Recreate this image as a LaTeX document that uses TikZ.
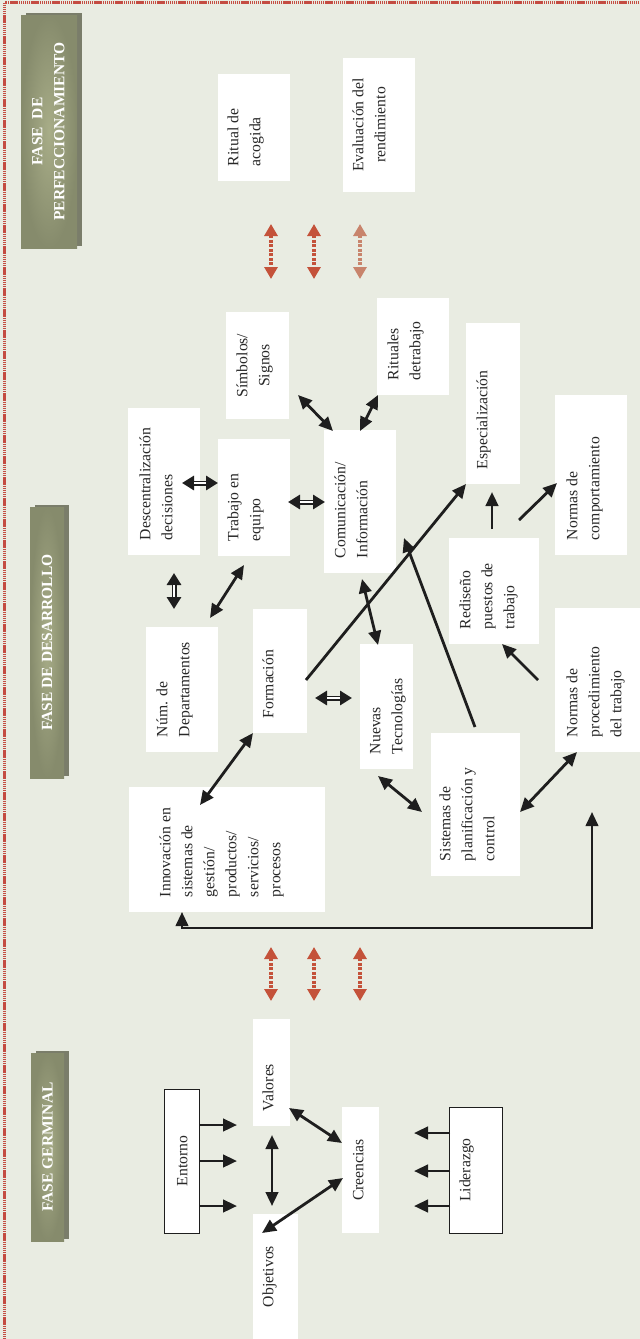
\documentclass[tikz,border=0pt]{standalone}
\usepackage{fontspec}
\setmainfont{Liberation Serif}
\usetikzlibrary{arrows.meta,calc}
\definecolor{bg}{RGB}{233,236,226}
\definecolor{brd}{RGB}{196,76,66}
\definecolor{oliveC}{RGB}{168,173,136}
\definecolor{oliveE}{RGB}{134,139,108}
\definecolor{oliveS}{RGB}{122,125,106}
\definecolor{ink}{RGB}{30,30,30}
\definecolor{txt}{RGB}{40,40,40}
\definecolor{redA}{RGB}{196,82,58}
\definecolor{redB}{RGB}{200,132,108}
% #1 screen width, #2 screen height, #3 offset of cap top from left edge, #4 lines
\newcommand\bxl[4]{\rotatebox{90}{\parbox[c][#1pt][t]{#2pt}{\vspace*{\dimexpr#3pt-5pt\relax}\hspace*{15pt}\begin{tabular}[t]{@{}l@{}}#4\end{tabular}}}}
\newcommand\bxc[4]{\rotatebox{90}{\parbox[c][#1pt][t]{#2pt}{\vspace*{\dimexpr#3pt-5pt\relax}\centering\begin{tabular}[t]{@{}c@{}}#4\end{tabular}\par}}}
\begin{document}
\begin{tikzpicture}[x=1pt,y=-1pt,
  wbox/.style={fill=white,inner sep=0pt,text=txt,font=\fontsize{15.7}{22}\selectfont},
  kbox/.style={wbox,draw=ink,line width=1pt},
  banner/.style={inner sep=0pt,text=white,font=\bfseries\fontsize{15.5}{22}\selectfont,
    inner color=oliveC,outer color=oliveE,
    preaction={fill=oliveS,transform canvas={shift={(5pt,2pt)}}}},
  arr/.style={draw=ink,line width=2.8pt,-{Triangle[length=14pt,width=12.5pt]}},
  darr/.style={draw=ink,line width=2.8pt,{Triangle[length=14pt,width=12.5pt]}-{Triangle[length=14pt,width=12.5pt]}},
  dbl/.style={draw=ink,line width=5pt,{Triangle[length=12pt,width=14pt]}-{Triangle[length=12pt,width=14pt]},
    postaction={draw=white,line width=1.2pt,arrows=-,shorten <=12pt,shorten >=12pt}},
  rdot/.style={line width=3.5pt,dash pattern=on 3pt off 1.5pt,
    {Triangle[length=12pt,width=13pt]}-{Triangle[length=12pt,width=13pt]}},
]
\useasboundingbox (0,0) rectangle (640,1339);
\fill[bg] (0,0) rectangle (640,1339);
\draw[brd,line width=2.2pt,dash pattern=on 1.4pt off 0.7pt] (4.5,2.5) rectangle (700,1400);

% phase banners
\node[banner,minimum width=56pt,minimum height=233pt] (b1) at (49,131.5)
  {\rotatebox{90}{\begin{tabular}{@{}c@{}}FASE\ \ DE\\PERFECCIONAMIENTO\end{tabular}}};
\node[banner,minimum width=34pt,minimum height=271pt] (b2) at (47,642.5)
  {\rotatebox{90}{FASE DE DESARROLLO}};
\node[banner,minimum width=33pt,minimum height=188pt] (b3) at (47.5,1147)
  {\rotatebox{90}{FASE GERMINAL}};

% boxes
\node[wbox] (rit) at (254,127.5) {\bxl{72}{107}{10}{Ritual de\\acogida}};
\node[wbox] (eva) at (379,125) {\bxc{72}{134}{10}{Evaluación del\\rendimiento}};
\node[wbox] (sim) at (257.5,365.5) {\bxc{63}{107}{11}{Símbolos/\\Signos}};
\node[wbox] (ritt) at (413,346.5) {\bxl{72}{97}{11}{Rituales\\detrabajo}};
\node[wbox] (desc) at (164,481.5) {\bxl{72}{147}{12}{Descentralización\\decisiones}};
\node[wbox] (trab) at (254,497.5) {\bxl{72}{117}{10}{Trabajo en\\equipo}};
\node[wbox] (com) at (360,501.5) {\bxl{72}{143}{11}{Comunicación/\\Información}};
\node[wbox] (esp) at (493,403.5) {\bxl{54}{161}{11}{Especialización}};
\node[wbox] (ncomp) at (591,475) {\bxl{72}{160}{12}{Normas de\\comportamiento}};
\node[wbox] (red) at (494,591) {\bxl{90}{106}{11}{Rediseño\\puestos de\\trabajo}};
\node[wbox] (num) at (182,689.5) {\bxl{72}{125}{11}{Núm. de\\Departamentos}};
\node[wbox] (form) at (280,671) {\bxl{54}{124}{10}{Formación}};
\node[wbox] (inno) at (227,849.5) {\bxl{196}{125}{31}{Innovación en\\sistemas de\\gestión/\\productos/\\servicios/\\procesos}};
\node[wbox] (nuev) at (386.5,706.5) {\bxl{53}{125}{10}{Nuevas\\Tecnologías}};
\node[wbox] (sist) at (475.5,804.5) {\bxl{89}{143}{9}{Sistemas de\\planificación y\\control}};
\node[wbox] (nproc) at (598,680) {\bxl{86}{144}{12}{Normas de\\procedimiento\\del trabajo}};
\node[wbox] (val) at (271.5,1072.5) {\bxl{37}{107}{10}{Valores}};
\node[wbox] (obj) at (275.5,1276.5) {\bxc{45}{125}{10}{Objetivos}};
\node[kbox] (ent) at (181.5,1161) {\bxc{35}{144}{13}{Entorno}};
\node[wbox] (cre) at (360.5,1170) {\bxc{37}{126}{11}{Creencias}};
\node[kbox] (lid) at (475.5,1170) {\bxc{53}{126}{11}{Liderazgo}};

% red dotted arrows between phases
\foreach \x/\c in {271/redA,314/redA,360/redB}
  \draw[rdot,draw=\c] (\x,224) -- (\x,279);
\foreach \x in {271,314,360}
  \draw[rdot,draw=redA] (\x,947) -- (\x,1001);

% connectors, development phase
\draw[dbl] ($(desc.center)+(18,1.5)$) -- ($(trab.center)+(-36,-14.5)$);
\draw[dbl] ($(trab.center)+(34,4.5)$) -- ($(com.center)+(-35,0.5)$);
\draw[darr] ($(sim.center)+(40.5,29.5)$) -- ($(com.center)+(-27,-70.5)$);
\draw[darr] ($(ritt.center)+(-35,48.5)$) -- ($(com.center)+(0,-70.5)$);
\draw[dbl] ($(desc.center)+(10,91.5)$) -- ($(num.center)+(-8,-80.5)$);
\draw[darr] ($(trab.center)+(-10,67.5)$) -- ($(num.center)+(28,-71.5)$);
\draw[darr] ($(com.center)+(2,77.5)$) -- ($(nuev.center)+(-8.5,-61.5)$);
\draw[arr] ($(form.center)+(26,9)$) -- ($(esp.center)+(-27,80.5)$);
\draw[arr] ($(sist.center)+(-0.5,-77.5)$) -- ($(com.center)+(44,36.5)$);
\draw[dbl] ($(form.center)+(35,27)$) -- ($(nuev.center)+(-34.5,-8.5)$);
\draw[darr] ($(form.center)+(-27,62)$) -- ($(inno.center)+(-27,-44.5)$);
\draw[darr] ($(nuev.center)+(-8.5,69.5)$) -- ($(sist.center)+(-53.5,7.5)$);
\draw[darr] ($(sist.center)+(44.5,7.5)$) -- ($(nproc.center)+(-21,72)$);
\draw[arr] ($(nproc.center)+(-60,0)$) -- ($(red.center)+(8,53)$);
\draw[arr] ($(red.center)+(-2,-62)$) -- ($(esp.center)+(-1,88.5)$);
\draw[arr] ($(red.center)+(25,-71)$) -- ($(ncomp.center)+(-34,8)$);
\draw[darr,line width=2.4pt] ($(inno.center)+(-45,62.5)$) -- ++(0,16) -| ($(nproc.center)+(-6,132)$);

% connectors, germinal phase
\foreach \dy in {-36,0,45}
  \draw[arr] ($(ent.center)+(17.5,\dy)$) -- ++(38,0);
\draw[darr] ($(val.center)+(0.5,62.5)$) -- ($(obj.center)+(-3.5,-70.5)$);
\draw[darr] ($(cre.center)+(-18.5,-27)$) -- ($(val.center)+(17.5,35.5)$);
\draw[darr] ($(cre.center)+(-17.5,8)$) -- ($(obj.center)+(-13.5,-43.5)$);
\foreach \dy in {-37,1,36}
  \draw[arr] ($(lid.center)+(-25.5,\dy)$) -- ++(-36,0);
\end{tikzpicture}
\end{document}
